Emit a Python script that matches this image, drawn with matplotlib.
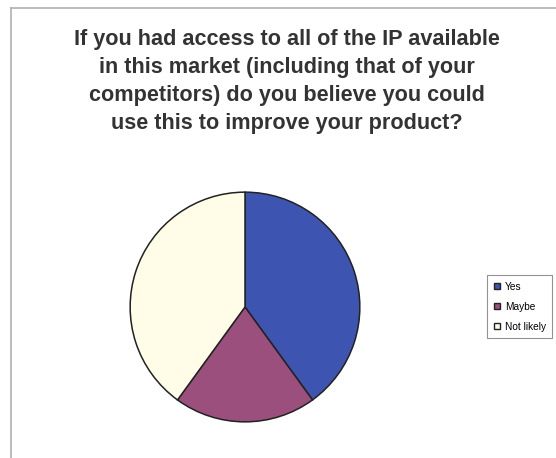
import matplotlib
matplotlib.use('Agg')
import matplotlib.pyplot as plt
from matplotlib.lines import Line2D

# ── Data ─────────────────────────────────────────────────────────────────────
labels = ['Yes', 'Maybe', 'Not likely']
shares = [40, 20, 40]
colors = ['#3d55b0', '#9a4f7d', '#fffce8']

title = ('If you had access to all of the IP available\n'
         'in this market (including that of your\n'
         'competitors) do you believe you could\n'
         'use this to improve your product?')

W, H = 556, 458
fig = plt.figure(figsize=(W / 100, H / 100), dpi=100)
fig.patch.set_facecolor('white')

# Outer chart frame (top and left edges visible)
frame_kw = dict(transform=fig.transFigure, color='#b0b0b0', lw=1.2)
fig.add_artist(Line2D([11 / W, 1.0], [1 - 8 / H, 1 - 8 / H], **frame_kw))
fig.add_artist(Line2D([11 / W, 11 / W], [0.0, 1 - 8 / H], **frame_kw))

fig.text(287 / W, 1 - 29 / H, title, ha='center', va='top',
         fontsize=15.6, fontweight='bold', color='#333333',
         family='Liberation Sans', linespacing=1.43)

# ── Pie ──────────────────────────────────────────────────────────────────────
cx, cy, r = 245, 307, 116
ax = fig.add_axes([(cx - r) / W, (H - cy - r) / H, 2 * r / W, 2 * r / H])
ax.pie(shares, colors=colors, startangle=90, counterclock=False, radius=1.0,
       wedgeprops=dict(edgecolor='#222222', linewidth=1.1))
ax.set_xlim(-1.01, 1.01)
ax.set_ylim(-1.01, 1.01)
ax.set_aspect('equal')
ax.axis('off')

# ── Legend ───────────────────────────────────────────────────────────────────
handles = [Line2D([0], [0], marker='s', ls='none', markersize=5,
                  markerfacecolor=c, markeredgecolor='#222222',
                  markeredgewidth=1.0) for c in colors]
leg = fig.legend(handles, labels, loc='upper left',
                 bbox_to_anchor=(487 / W, 1 - 275 / H),
                 prop=dict(family='Liberation Sans', size=7.3),
                 frameon=True, fancybox=False, edgecolor='#777777',
                 handlelength=0.7, handletextpad=0.4, labelspacing=1.0,
                 borderpad=0.65, borderaxespad=0)
leg.get_frame().set_linewidth(0.8)

fig.savefig('out.png', dpi=100, facecolor='white')
